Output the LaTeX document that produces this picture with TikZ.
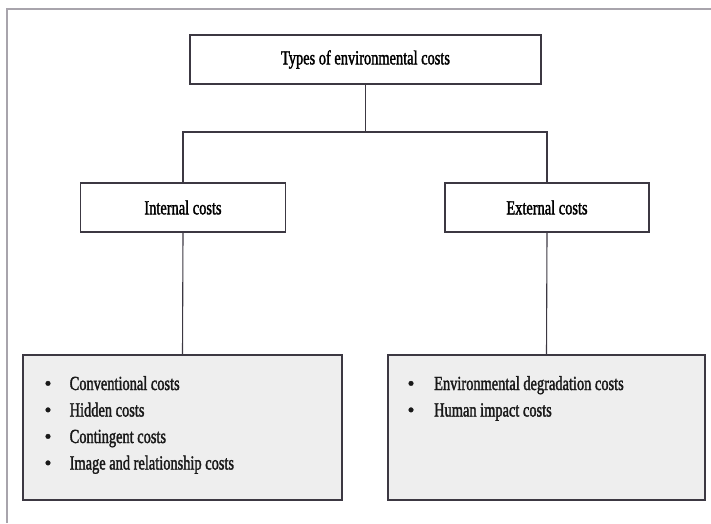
\documentclass[tikz,border=0pt]{standalone}
\usepackage{fontspec}
\setmainfont{Liberation Serif}[FakeStretch=0.72,FakeBold=1.6]
\newfontfamily\bulletfont{Liberation Serif}[FakeBold=1.2]
\usetikzlibrary{positioning}
\definecolor{edge}{HTML}{3C3842}
\definecolor{frameline}{HTML}{A8A4AC}
\definecolor{listfill}{HTML}{EEEEEE}
\tikzset{
  every node/.style={font=\fontsize{20}{24}\selectfont},
  box/.style={draw=edge, line width=1.2pt, rectangle, inner sep=0pt},
  listbox/.style={box, fill=listfill},
  link/.style={draw=edge, line width=1.1pt},
  item/.style={anchor=base west, inner sep=0pt, text=black!90},
  dot/.style={anchor=base, inner sep=0pt, text=black!90, font=\bulletfont\fontsize{20}{24}\selectfont}
}
\begin{document}
\begin{tikzpicture}[x=1pt, y=-1pt]
  \useasboundingbox (0,0) rectangle (711,523);
  % page frame
  \draw[frameline, line width=1.5pt] (7,523) -- (7,9) -- (711,9);

  % hierarchy boxes
  \node[box, minimum width=351pt, minimum height=49pt] (top) at (365.5,59.5) {Types of environmental costs};
  \node[box, minimum width=205pt, minimum height=49pt] (int) at (183,207.5) {Internal costs};
  \node[box, minimum width=204pt, minimum height=49pt] (ext) at (547,207.5) {External costs};
  \node[listbox, minimum width=319pt, minimum height=145pt] (intlist) at (182.5,427.5) {};
  \node[listbox, minimum width=317pt, minimum height=145pt] (extlist) at (546.5,427.5) {};

  % connectors
  \coordinate (split) at (365.5,132);
  \draw[link] (top.south) -- (split);
  \draw[link] (int.north) |- (split) -| (ext.north);
  \draw[link] (int.south) -- (intlist.north);
  \draw[link] (ext.south) -- (extlist.north);

  % internal cost items
  \node[dot] (b1) at (48,390) {•};
  \node[dot] (b2) at (48,416.5) {•};
  \node[dot] (b3) at (48,443) {•};
  \node[dot] (b4) at (48,469.5) {•};
  \node[item] (i1) at (69.5,390) {Conventional costs};
  \node[item] (i2) at (69.5,416.5) {Hidden costs};
  \node[item] (i3) at (69.5,443) {Contingent costs};
  \node[item] (i4) at (69.5,469.5) {Image and relationship costs};

  % external cost items
  \node[dot] (c1) at (411,390) {•};
  \node[dot] (c2) at (411,416.5) {•};
  \node[item] (e1) at (434,390) {Environmental degradation costs};
  \node[item] (e2) at (434,416.5) {Human impact costs};
\end{tikzpicture}
\end{document}
